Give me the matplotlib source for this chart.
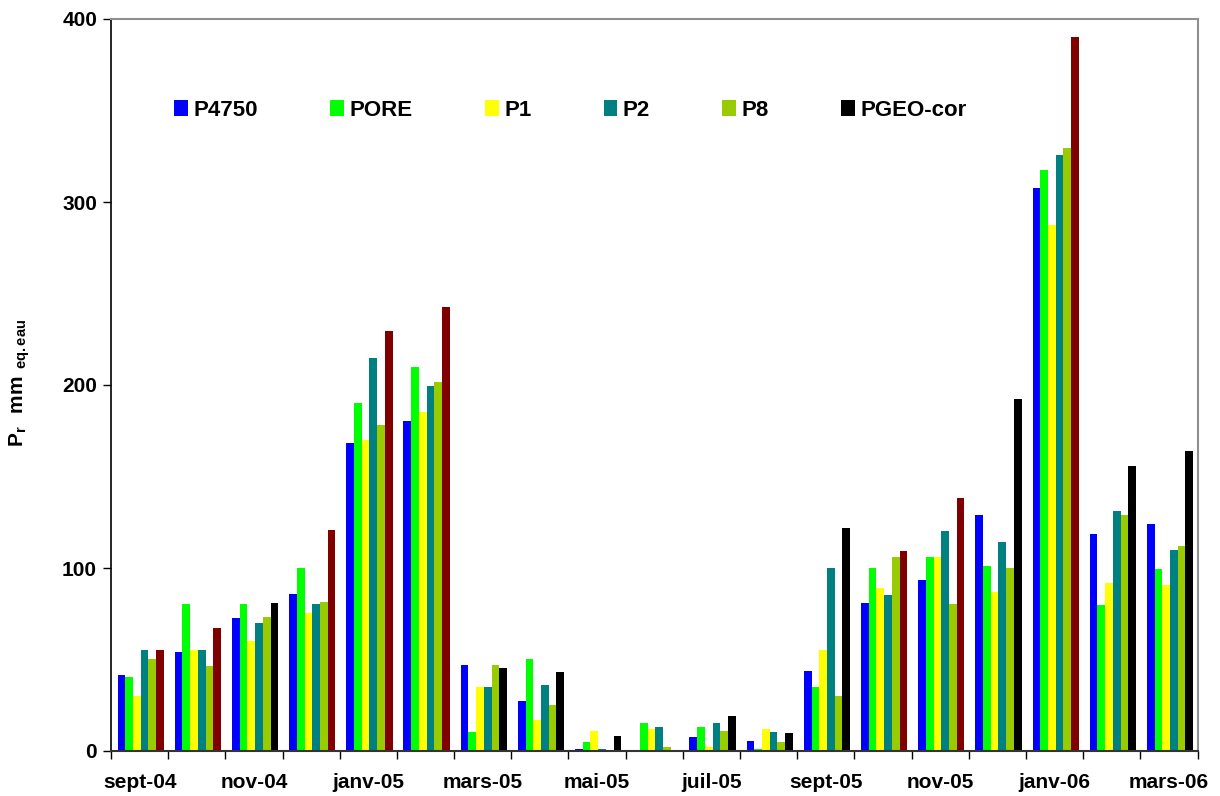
import numpy as np
import matplotlib
matplotlib.use("Agg")
import matplotlib.pyplot as plt
from matplotlib.patches import Patch

plt.rcParams['font.family'] = ['Liberation Sans', 'DejaVu Sans']
plt.rcParams['mathtext.fontset'] = 'custom'
plt.rcParams['mathtext.rm'] = 'Liberation Sans:bold'
plt.rcParams['mathtext.bf'] = 'Liberation Sans:bold'

months = ['sept-04', 'oct-04', 'nov-04', 'déc-04', 'janv-05', 'févr-05', 'mars-05',
          'avr-05', 'mai-05', 'juin-05', 'juil-05', 'août-05', 'sept-05', 'oct-05',
          'nov-05', 'déc-05', 'janv-06', 'févr-06', 'mars-06']

p4750 = [41.5, 54.0, 72.6, 85.7, 168.1, 180.6, 46.9, 27.3, 1.3, 0.0, 7.6, 5.5,
         43.6, 80.8, 93.3, 128.8, 307.8, 118.8, 124.2]
pore = [40.4, 80.2, 80.2, 99.9, 189.9, 210.1, 10.4, 50.2, 4.9, 15.3, 13.1, 1.0,
        34.9, 99.9, 105.9, 101.0, 317.6, 79.9, 99.7]
p1 = [30.0, 55.0, 60.0, 75.3, 169.7, 185.0, 34.9, 16.9, 10.9, 12.0, 2.2, 12.0,
      55.1, 88.9, 105.9, 86.8, 287.6, 91.8, 90.8]
p2 = [55.1, 55.0, 69.8, 80.2, 215.0, 199.7, 34.9, 36.0, 1.3, 13.1, 15.3, 10.4,
      99.9, 85.1, 120.1, 114.0, 325.8, 131.0, 110.0]
p8 = [50.2, 46.4, 73.1, 81.3, 177.9, 201.9, 46.9, 25.1, 0.0, 2.2, 10.9, 4.9,
      30.0, 105.9, 80.2, 99.9, 329.6, 128.8, 111.8]
pgeo_cor = [55.1, 67.1, 80.8, 120.6, 229.7, 242.8, 45.3, 43.1, 8.2, 0.5, 19.1, 9.8,
            121.7, 109.1, 138.1, 192.6, 390.2, 155.6, 164.2]
# months where the PGEO-cor bar is drawn in dark red
pgeo_red = [0, 1, 3, 4, 5, 13, 14, 16]

series = [('P4750', p4750, '#0000FF'),
          ('PORE', pore, '#00FF00'),
          ('P1', p1, '#FFFF00'),
          ('P2', p2, '#008080'),
          ('P8', p8, '#99CC00'),
          ('PGEO-cor', pgeo_cor, '#000000')]

fig = plt.figure(figsize=(12.2, 7.96), dpi=100)
ax = fig.add_axes([111 / 1220, 1 - 751 / 796, (1197.5 - 111) / 1220, (751 - 19) / 796])

x = np.arange(len(months))
bw = 0.135
for i, (name, vals, col) in enumerate(series):
    cols = [col] * len(months)
    if name == 'PGEO-cor':
        cols = ['#800000' if j in pgeo_red else col for j in range(len(months))]
    ax.bar(x + (i - 2.5) * bw + 0.02, vals, width=bw, color=cols, linewidth=0)

ax.set_xlim(-0.5, len(months) - 0.5)
ax.set_ylim(0, 400)

ax.set_yticks([0, 100, 200, 300, 400])
ax.tick_params(axis='y', direction='out', length=6, width=1, labelsize=15, pad=4)
ax.set_xticks(x[::2])
ax.set_xticklabels(months[::2])
ax.set_xticks(np.arange(-0.5, len(months)), minor=True)
ax.tick_params(axis='x', which='major', length=0, labelsize=15, pad=16)
ax.tick_params(axis='x', which='minor', direction='out', length=6, width=1)
for lab in ax.get_xticklabels() + ax.get_yticklabels():
    lab.set_fontweight('bold')

ax.spines['left'].set_color('black')
ax.spines['left'].set_linewidth(1.2)
ax.spines['bottom'].set_color('#333333')
ax.spines['bottom'].set_linewidth(1.5)
ax.spines['top'].set_color('#909090')
ax.spines['right'].set_color('#909090')
ax.spines['top'].set_linewidth(1.5)
ax.spines['right'].set_linewidth(1.5)

# y label placed in figure pixels, like the reference
fig.text(20 / 1220, 1 - 383 / 796, r'$\mathbf{P_r\ \ mm\ _{eq.eau}}$', fontsize=15,
         rotation=90, ha='center', va='center')

handles = [Patch(facecolor=c, edgecolor='none', label=n) for n, v, c in series]
fig.legend(handles=handles, loc='center left', bbox_to_anchor=(174 / 1220, 1 - 110 / 796),
           ncol=6, frameon=False, borderpad=0, borderaxespad=0,
           handlelength=0.62, handleheight=0.75, handletextpad=0.25, columnspacing=3.25,
           prop={'weight': 'bold', 'size': 16})

fig.savefig('out.png', dpi=100)
